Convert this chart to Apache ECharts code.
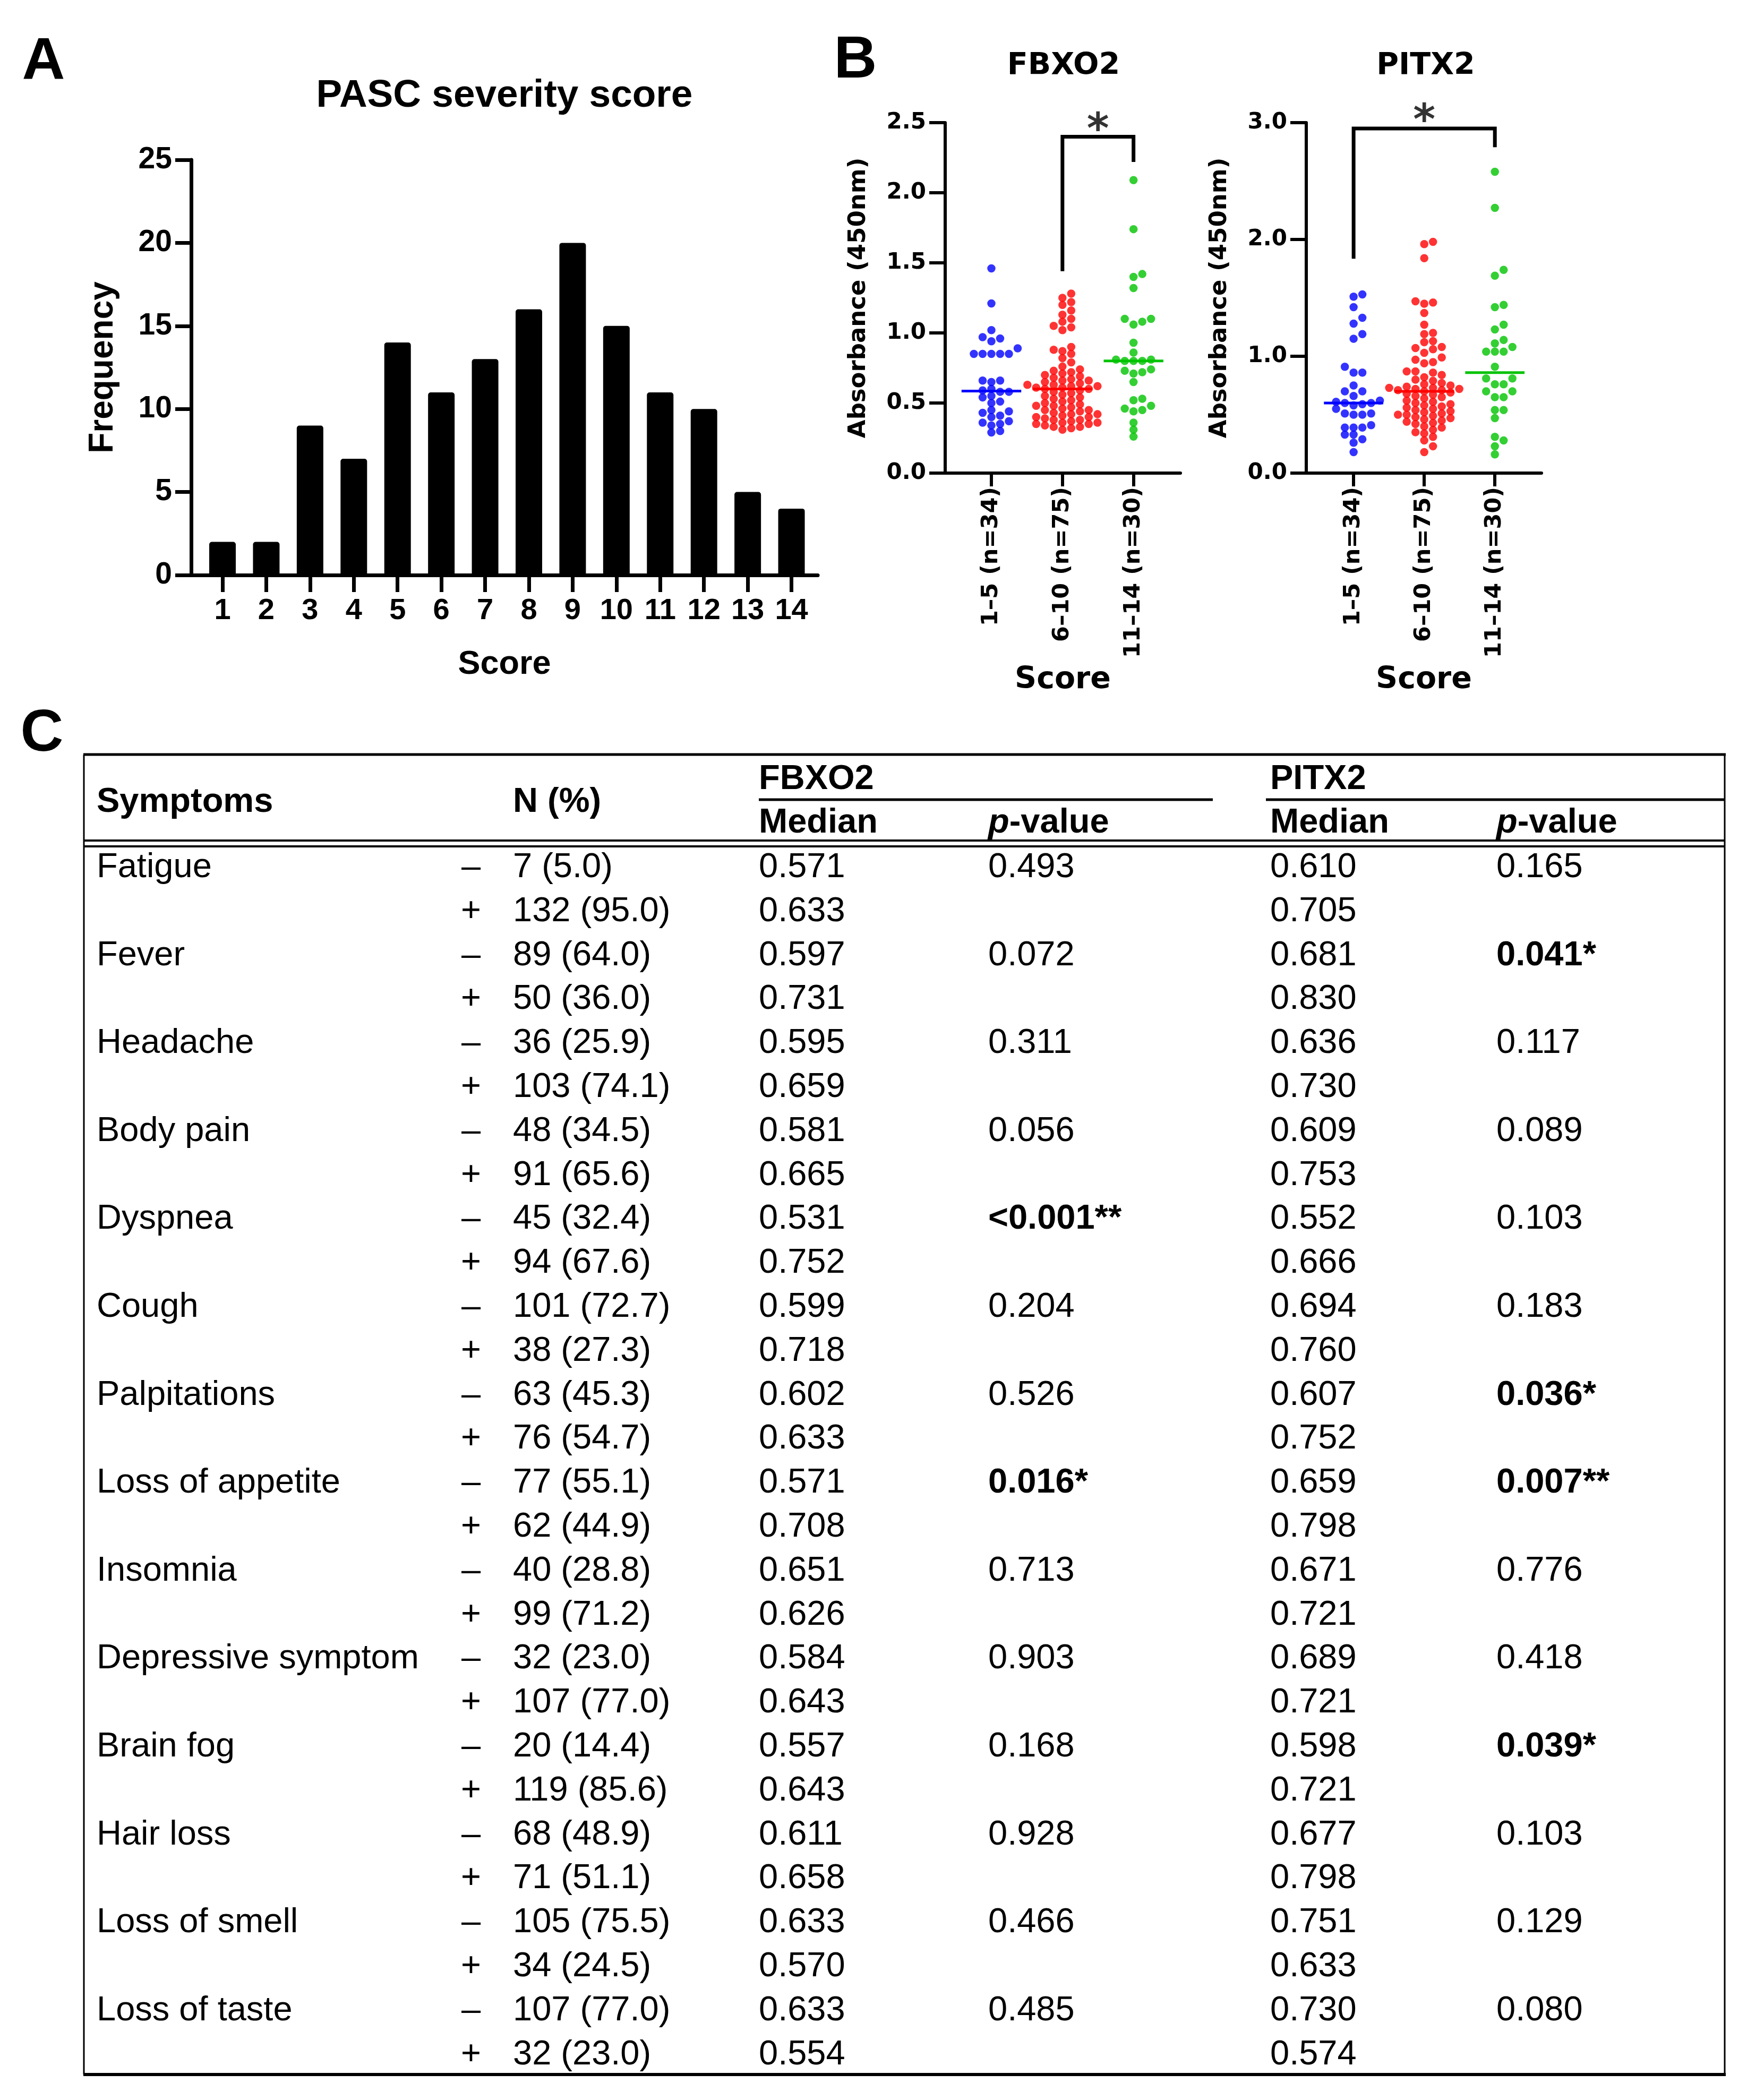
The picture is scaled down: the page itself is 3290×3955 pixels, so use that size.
<!DOCTYPE html>
<html><head><meta charset="utf-8">
<script src="https://cdn.jsdelivr.net/npm/echarts@6/dist/echarts.min.js"></script>
<style>html,body{margin:0;padding:0;background:#fff}#c{width:3290px;height:3955px}</style>
</head><body><div id="c"></div>
<script>
// ---------- DATA ----------
const scoreCats = [1,2,3,4,5,6,7,8,9,10,11,12,13,14];
const scoreFreq = [2,2,9,7,14,11,13,16,20,15,11,10,5,4];
const freqTicks = [0,5,10,15,20,25];

const groupLabels = ['1–5 (n=34)','6–10 (n=75)','11–14 (n=30)'];

const fbxo2Low = [1.46,1.21,1.02,0.97,0.96,0.94,0.89,0.85,0.85,0.85,0.85,0.85,0.66,0.66,0.65,0.60,0.59,0.58,0.58,0.55,0.54,0.51,0.50,0.45,0.44,0.43,0.41,0.40,0.37,0.36,0.35,0.34,0.30,0.29];
const fbxo2Mid = [1.28,1.25,1.22,1.20,1.16,1.13,1.10,1.08,1.05,1.04,1.02,0.90,0.88,0.87,0.85,0.82,0.79,0.76,0.74,0.73,0.72,0.71,0.70,0.69,0.68,0.67,0.66,0.66,0.65,0.64,0.63,0.63,0.62,0.62,0.61,0.61,0.60,
  0.60,0.59,0.58,0.57,0.56,0.55,0.54,0.53,0.52,0.51,0.50,0.49,0.48,0.48,0.47,0.46,0.45,0.45,0.44,0.43,0.42,0.42,0.41,0.40,0.40,0.39,0.38,0.38,0.37,0.36,0.36,0.35,0.35,0.34,0.33,0.33,0.32,0.31];
const fbxo2High = [2.09,1.74,1.42,1.40,1.32,1.10,1.10,1.08,1.06,0.93,0.86,0.81,0.81,0.80,0.80,0.80,0.74,0.73,0.72,0.71,0.65,0.53,0.52,0.48,0.46,0.45,0.44,0.36,0.31,0.26];

const pitx2Low = [1.53,1.51,1.42,1.33,1.28,1.19,1.15,0.91,0.86,0.86,0.75,0.70,0.70,0.66,0.62,0.61,0.60,0.60,0.59,0.58,0.55,0.51,0.51,0.50,0.50,0.41,0.39,0.39,0.39,0.33,0.33,0.29,0.26,0.18];
const pitx2Mid = [1.98,1.96,1.84,1.47,1.46,1.45,1.37,1.27,1.20,1.19,1.13,1.12,1.08,1.07,1.06,1.03,0.99,0.97,0.95,0.94,0.87,0.87,0.86,0.84,0.82,0.80,0.79,0.77,0.76,0.75,0.74,0.73,0.73,0.72,0.72,0.71,0.71,
  0.70,0.69,0.68,0.67,0.66,0.65,0.64,0.62,0.61,0.60,0.59,0.58,0.57,0.56,0.55,0.54,0.53,0.52,0.51,0.50,0.50,0.49,0.48,0.47,0.46,0.45,0.44,0.43,0.42,0.40,0.39,0.37,0.35,0.34,0.31,0.28,0.23,0.18];
const pitx2High = [2.58,2.27,1.74,1.69,1.44,1.42,1.27,1.23,1.14,1.11,1.08,1.04,1.04,1.04,0.91,0.81,0.81,0.76,0.76,0.70,0.70,0.65,0.65,0.54,0.54,0.47,0.31,0.28,0.23,0.16];

const fbxo2Ticks = [0,0.5,1.0,1.5,2.0,2.5];
const pitx2Ticks = [0,1.0,2.0,3.0];
const fbxo2Bracket = [[2,1.44],[2,2.40],[3,2.40],[3,2.22]];
const pitx2Bracket = [[1,1.835],[1,2.95],[3,2.95],[3,2.79]];
const fbxo2Star = [2.5,2.52];
const pitx2Star = [2,3.10];

const symptoms = ['Fatigue','Fever','Headache','Body pain','Dyspnea','Cough','Palpitations','Loss of appetite','Insomnia','Depressive symptom','Brain fog','Hair loss','Loss of smell','Loss of taste'];
const nNeg = ['7 (5.0)','89 (64.0)','36 (25.9)','48 (34.5)','45 (32.4)','101 (72.7)','63 (45.3)','77 (55.1)','40 (28.8)','32 (23.0)','20 (14.4)','68 (48.9)','105 (75.5)','107 (77.0)'];
const nPos = ['132 (95.0)','50 (36.0)','103 (74.1)','91 (65.6)','94 (67.6)','38 (27.3)','76 (54.7)','62 (44.9)','99 (71.2)','107 (77.0)','119 (85.6)','71 (51.1)','34 (24.5)','32 (23.0)'];
const fbxMedNeg = ['0.571','0.597','0.595','0.581','0.531','0.599','0.602','0.571','0.651','0.584','0.557','0.611','0.633','0.633'];
const fbxMedPos = ['0.633','0.731','0.659','0.665','0.752','0.718','0.633','0.708','0.626','0.643','0.643','0.658','0.570','0.554'];
const fbxP = ['0.493','0.072','0.311','0.056','<0.001**','0.204','0.526','0.016*','0.713','0.903','0.168','0.928','0.466','0.485'];
const pitMedNeg = ['0.610','0.681','0.636','0.609','0.552','0.694','0.607','0.659','0.671','0.689','0.598','0.677','0.751','0.730'];
const pitMedPos = ['0.705','0.830','0.730','0.753','0.666','0.760','0.752','0.798','0.721','0.721','0.721','0.798','0.633','0.574'];
const pitP = ['0.165','0.041*','0.117','0.089','0.103','0.183','0.036*','0.007**','0.776','0.418','0.039*','0.103','0.129','0.080'];

// ---------- LAYOUT ----------
const FA = 'Liberation Sans', FB = 'DejaVu Sans';
const gA = {left:360, top:301, width:1180, height:782, xmin:0.284, xmax:14.6};
const gF = {left:1780, top:231, width:443, height:660, xmin:0.35, xmax:3.66, ymax:2.5};
const gP = {left:2460, top:231, width:443, height:660, xmin:0.33, xmax:3.66, ymax:3.0};
const colors = ['#0000FF','#FF0000','#00C300'];

function median(a){const s=[...a].sort((x,y)=>x-y);const n=s.length;return n%2?s[(n-1)/2]:(s[n/2-1]+s[n/2])/2;}
function swarm(vals, pxY, pxX, dx, minDy){
  const idx = vals.map((v,i)=>i).sort((a,b)=>vals[a]-vals[b]);
  const placed=[], off=new Array(vals.length);
  for(const i of idx){
    const y = vals[i]*pxY;
    for(let k=0;k<60;k++){
      const c = k===0?0:(k%2?Math.ceil(k/2):-Math.ceil(k/2))*dx;
      let ok=true;
      for(const p of placed){ if(Math.abs(p.y-y)<minDy && Math.abs(p.x-c)<dx*0.99){ok=false;break;} }
      if(ok){placed.push({x:c,y});off[i]=c/pxX;break;}
    }
  }
  return off;
}

const series = [];
series.push({type:'bar', xAxisIndex:0, yAxisIndex:0, barWidth:50,
  data: scoreCats.map((c,i)=>[c,scoreFreq[i]]),
  itemStyle:{color:'#000', borderRadius:[5,5,0,0]}});

function addPanel(ax, g, groups, bracket, star){
  const pxY = g.height/g.ymax, pxX = g.width/(g.xmax-g.xmin);
  groups.forEach((vals,gi)=>{
    const off = swarm(vals, pxY, pxX, 16.5, 12);
    series.push({type:'scatter', xAxisIndex:ax, yAxisIndex:ax, symbolSize:15.5, z:3,
      itemStyle:{color:colors[gi]}, data: vals.map((v,i)=>[gi+1+off[i], v])});
    const m = median(vals);
    series.push({type:'line', xAxisIndex:ax, yAxisIndex:ax, symbol:'none', z:4,
      lineStyle:{color:colors[gi], width:5}, data:[[gi+1-0.42,m],[gi+1+0.42,m]]});
  });
  series.push({type:'line', xAxisIndex:ax, yAxisIndex:ax, symbol:'none', z:5, clip:false,
    lineStyle:{color:'#000', width:7, join:'miter'}, data: bracket});
  series.push({type:'scatter', xAxisIndex:ax, yAxisIndex:ax, symbolSize:1, clip:false, z:5,
    itemStyle:{color:'rgba(0,0,0,0)'}, data:[star],
    label:{show:true, position:'inside', formatter:'*', color:'#000', fontFamily:FB, fontWeight:'bold', fontSize:80, offset:[0,22]}});
}
addPanel(1, gF, [fbxo2Low,fbxo2Mid,fbxo2High], fbxo2Bracket, fbxo2Star);
addPanel(2, gP, [pitx2Low,pitx2Mid,pitx2High], pitx2Bracket, pitx2Star);

function bAxisX(g, idx){
  return {gridIndex:idx, type:'value', min:g.xmin, max:g.xmax,
    name:'Score', nameLocation:'middle', nameGap:362,
    nameTextStyle:{fontFamily:FB, fontWeight:'bold', fontSize:57, color:'#000'},
    axisLine:{show:true, onZero:false, lineStyle:{color:'#000', width:6}},
    axisTick:{show:true, customValues:[1,2,3], length:25, lineStyle:{color:'#000', width:6}},
    axisLabel:{customValues:[1,2,3], rotate:90, margin:26, formatter:v=>groupLabels[Math.round(v)-1],
      fontFamily:FB, fontWeight:'bold', fontSize:43, color:'#000'},
    splitLine:{show:false}};
}
function bAxisY(g, idx, ticks){
  return {gridIndex:idx, type:'value', min:0, max:g.ymax, interval:ticks[1]-ticks[0],
    name:'Absorbance (450nm)', nameLocation:'middle', nameGap:140,
    nameTextStyle:{fontFamily:FB, fontWeight:'bold', fontSize:45, color:'#000'},
    axisLine:{show:true, lineStyle:{color:'#000', width:6}},
    axisTick:{show:true, length:30, lineStyle:{color:'#000', width:6}},
    axisLabel:{margin:36, formatter:v=>v.toFixed(1), fontFamily:FB, fontWeight:'bold', fontSize:42, color:'#000'},
    splitLine:{show:false}};
}

// ---------- TABLE (graphic) ----------
const T = {left:158, right:3248, top:1421, bottom:3907, row0:1634, rowH:82.8,
  cSym:182, cSign:887, cN:966, cFM:1429, cFP:1861, cPM:2392, cPP:2818,
  hTop:1468, hMid:1511, hBot:1550, fs:65};
const gr = [];
function txt(x,y,t,bold,align){
  gr.push({type:'text', x:x, y:y, style:{text:t, fontFamily:FA, fontSize:T.fs, fontWeight:bold?'bold':'normal',
    fill:'#000', align:align||'left', verticalAlign:'middle'}});
}
function pval(x,y){
  gr.push({type:'text', x:x, y:y, style:{text:'{i|p}-value', fontFamily:FA, fontSize:T.fs, fontWeight:'bold', fill:'#000',
    align:'left', verticalAlign:'middle', rich:{i:{fontFamily:FA, fontSize:T.fs, fontWeight:'bold', fontStyle:'italic', fill:'#000'}}}});
}
function ln(x1,y1,x2,y2,w){gr.push({type:'line', shape:{x1,y1,x2,y2}, style:{stroke:'#000', lineWidth:w}});}

// panel letters & titles
gr.push({type:'text', x:82, y:118, style:{text:'A', fontFamily:FA, fontWeight:'bold', fontSize:112, fill:'#000', align:'center', verticalAlign:'middle'}});
gr.push({type:'text', x:1611, y:115, style:{text:'B', fontFamily:FA, fontWeight:'bold', fontSize:112, fill:'#000', align:'center', verticalAlign:'middle'}});
gr.push({type:'text', x:79, y:1383, style:{text:'C', fontFamily:FA, fontWeight:'bold', fontSize:112, fill:'#000', align:'center', verticalAlign:'middle'}});
gr.push({type:'text', x:950, y:181, style:{text:'PASC severity score', fontFamily:FA, fontWeight:'bold', fontSize:73, fill:'#000', align:'center', verticalAlign:'middle'}});
gr.push({type:'text', x:2003, y:125, style:{text:'FBXO2', fontFamily:FB, fontWeight:'bold', fontSize:57, fill:'#000', align:'center', verticalAlign:'middle'}});
gr.push({type:'text', x:2685, y:125, style:{text:'PITX2', fontFamily:FB, fontWeight:'bold', fontSize:57, fill:'#000', align:'center', verticalAlign:'middle'}});

// table lines
ln(T.left-1, T.top, T.right+2, T.top, 5);
ln(T.left-1, T.bottom, T.right+2, T.bottom, 6);
ln(T.left, T.top, T.left, T.bottom, 3);
ln(T.right, T.top, T.right, T.bottom, 3);
ln(T.cFM, 1506, 2284, 1506, 5);
ln(2384, 1506, T.right, 1506, 5);
ln(T.left, 1583, T.right, 1583, 4);
ln(T.left, 1594, T.right, 1594, 4);
// headers
txt(T.cSym, T.hMid, 'Symptoms', true);
txt(T.cN, T.hMid, 'N (%)', true);
txt(T.cFM, T.hTop, 'FBXO2', true);
txt(T.cPM, T.hTop, 'PITX2', true);
txt(T.cFM, T.hBot, 'Median', true);
txt(T.cPM, T.hBot, 'Median', true);
pval(T.cFP, T.hBot); pval(T.cPP, T.hBot);
// rows
symptoms.forEach((s,i)=>{
  const y1 = T.row0 + (2*i)*T.rowH, y2 = T.row0 + (2*i+1)*T.rowH;
  txt(T.cSym, y1, s, false);
  txt(T.cSign, y1, '–', false, 'center');
  txt(T.cSign, y2, '+', false, 'center');
  txt(T.cN, y1, nNeg[i], false); txt(T.cN, y2, nPos[i], false);
  txt(T.cFM, y1, fbxMedNeg[i], false); txt(T.cFM, y2, fbxMedPos[i], false);
  txt(T.cFP, y1, fbxP[i], fbxP[i].indexOf('*')>=0);
  txt(T.cPM, y1, pitMedNeg[i], false); txt(T.cPM, y2, pitMedPos[i], false);
  txt(T.cPP, y1, pitP[i], pitP[i].indexOf('*')>=0);
});

const option = {
  animation:false, backgroundColor:'#fff',
  grid:[
    {left:gA.left, top:gA.top, width:gA.width, height:gA.height},
    {left:gF.left, top:gF.top, width:gF.width, height:gF.height},
    {left:gP.left, top:gP.top, width:gP.width, height:gP.height}
  ],
  xAxis:[
    {gridIndex:0, type:'value', min:gA.xmin, max:gA.xmax,
     name:'Score', nameLocation:'middle', nameGap:137,
     nameTextStyle:{fontFamily:FA, fontWeight:'bold', fontSize:63, color:'#000'},
     axisLine:{show:true, onZero:false, lineStyle:{color:'#000', width:7}},
     axisTick:{show:true, customValues:scoreCats, length:32, lineStyle:{color:'#000', width:7}},
     axisLabel:{customValues:scoreCats, margin:40, fontFamily:FA, fontWeight:'bold', fontSize:56, color:'#000'},
     splitLine:{show:false}},
    bAxisX(gF,1), bAxisX(gP,2)
  ],
  yAxis:[
    {gridIndex:0, type:'value', min:0, max:25, interval:freqTicks[1]-freqTicks[0],
     name:'Frequency', nameLocation:'middle', nameGap:134,
     nameTextStyle:{fontFamily:FA, fontWeight:'bold', fontSize:64, color:'#000'},
     axisLine:{show:true, lineStyle:{color:'#000', width:7}},
     axisTick:{show:true, length:30, lineStyle:{color:'#000', width:7}},
     axisLabel:{margin:36, fontFamily:FA, fontWeight:'bold', fontSize:57, color:'#000'},
     splitLine:{show:false}},
    bAxisY(gF,1,fbxo2Ticks), bAxisY(gP,2,pitx2Ticks)
  ],
  series: series,
  graphic: gr
};
const chart = echarts.init(document.getElementById('c'));
chart.setOption(option);
</script></body></html>
